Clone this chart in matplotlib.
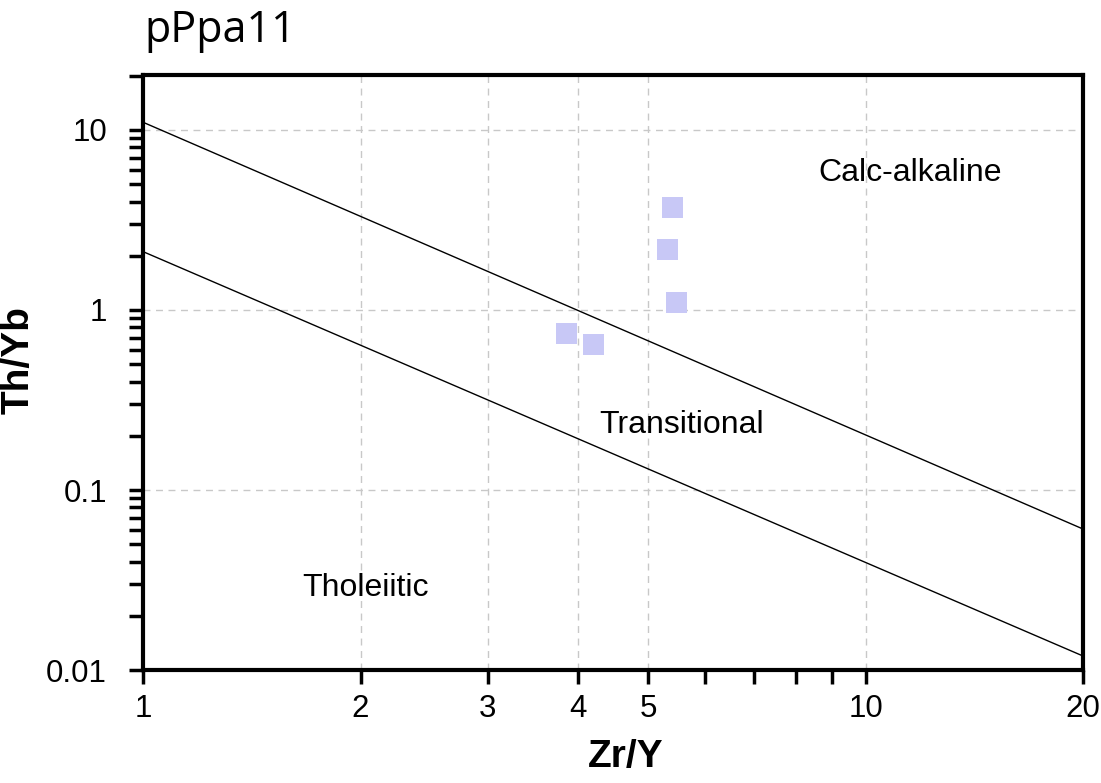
import matplotlib
matplotlib.use('Agg')
from matplotlib import pyplot as plt
from matplotlib.ticker import FixedLocator, NullFormatter
import numpy as np

# sample points (Zr/Y, Th/Yb)
zr_y = [3.85, 4.20, 5.32, 5.41, 5.48]
th_yb = [0.738, 0.645, 2.17, 3.72, 1.10]

# boundary lines, endpoints at Zr/Y = 1 and 20
line_x = [1, 20]
upper_y = [11.04, 0.0607]
lower_y = [2.11, 0.01196]

x_major = [1, 2, 3, 4, 5, 10, 20]
x_minor = [6, 7, 8, 9]
y_major = [0.01, 0.1, 1, 10]
y_labels = ['0.01', '0.1', '1', '10']

plt.rcParams['font.family'] = ['Liberation Sans', 'DejaVu Sans']

fig = plt.figure(figsize=(11.01, 7.83), dpi=100)
ax = fig.add_axes([0.1299, 0.1443, 0.8538, 0.7599])
ax.set_xscale('log')
ax.set_yscale('log')
ax.set_xlim(1, 20)
ax.set_ylim(0.01, 20.2)

ax.plot(line_x, upper_y, color='black', lw=1)
ax.plot(line_x, lower_y, color='black', lw=1)
ax.scatter(zr_y, th_yb, marker='s', s=230, color='#c8c8f6', edgecolors='none', zorder=3)

ax.xaxis.set_major_locator(FixedLocator(x_major))
ax.set_xticklabels([str(v) for v in x_major])
ax.xaxis.set_minor_locator(FixedLocator(x_minor))
ax.xaxis.set_minor_formatter(NullFormatter())
ax.yaxis.set_major_locator(FixedLocator(y_major))
ax.set_yticklabels(y_labels)
ax.yaxis.set_minor_locator(FixedLocator([m * 10.0 ** e for e in (-2, -1, 0, 1) for m in range(2, 10) if m * 10.0 ** e <= 20.2]))
ax.yaxis.set_minor_formatter(NullFormatter())

ax.tick_params(which='both', direction='out', length=10, width=2.5, labelsize=22.5)
ax.tick_params(axis='x', pad=7)
ax.tick_params(axis='y', pad=16)
for s in ax.spines.values():
    s.set_linewidth(3)

ax.grid(True, which='major', ls=(0, (5, 4)), color='#c8c8c8', lw=1)
ax.set_axisbelow(True)

ax.text(11.54, 5.77, 'Calc-alkaline', fontsize=23, ha='center', va='center')
ax.text(5.57, 0.231, 'Transitional', fontsize=23, ha='center', va='center')
ax.text(2.03, 0.0287, 'Tholeiitic', fontsize=23, ha='center', va='center')

fig.text(0.5686, 0.0204, 'Zr/Y', fontsize=28, fontweight='bold', ha='center', va='baseline')
fig.text(0.0173, 0.540, 'Th/Yb', fontsize=28, fontweight='bold', rotation=90, ha='center', va='center')
fig.text(0.131, 0.946, 'pPpa11', fontsize=31, family='Open Sans', va='baseline')

fig.savefig('out.png', dpi=100)
